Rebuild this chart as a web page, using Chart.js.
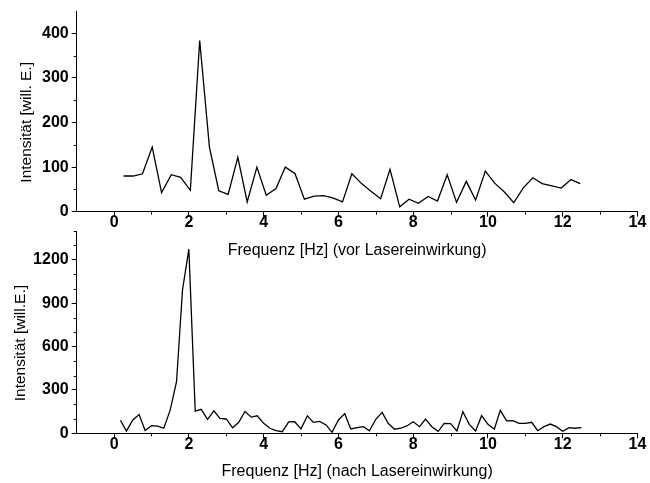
<!DOCTYPE html>
<html>
<head>
<meta charset="utf-8">
<script src="https://cdn.jsdelivr.net/npm/chart.js@4"></script>
<style>
  html, body { margin: 0; padding: 0; background: #fff; }
  #wrap { position: relative; width: 650px; height: 483px; }
  .box { position: absolute; left: 0; width: 650px; }
</style>
</head>
<body>
<div id="wrap">
  <div class="box" style="top:0;height:265px"><canvas id="vor"></canvas></div>
  <div class="box" style="top:220px;height:263px"><canvas id="nach"></canvas></div>
</div>
<script>
const FONT = '"Liberation Sans", Arial, sans-serif'

// vor Lasereinwirkung
const freqVor = [0.25, 0.51, 0.76, 1.02, 1.27, 1.53, 1.78, 2.04, 2.29, 2.55, 2.80, 3.05, 3.31, 3.56, 3.82, 4.07, 4.33,
  4.58, 4.84, 5.09, 5.35, 5.60, 5.85, 6.11, 6.36, 6.62, 6.87, 7.13, 7.38, 7.64, 7.89, 8.14, 8.40, 8.65, 8.91, 9.16,
  9.42, 9.67, 9.93, 10.18, 10.44, 10.69, 10.94, 11.20, 11.45, 11.71, 11.96, 12.22, 12.47]
const intVor = [80, 80, 85, 145, 43, 83, 77, 48, 384, 145, 47, 39, 122, 22, 100, 37, 52,
  100, 85, 28, 35, 36, 31, 22, 85, 63, 46, 29, 95, 11, 28, 19, 34, 24, 83, 21,
  68, 26, 91, 64, 44, 20, 53, 76, 63, 58, 53, 72, 63]

// nach Lasereinwirkung
const freqNach = [0.17, 0.33, 0.50, 0.67, 0.83, 1.00, 1.17, 1.33, 1.50, 1.67, 1.83, 2.00, 2.17, 2.33, 2.50, 2.67,
  2.83, 3.00, 3.17, 3.33, 3.50, 3.67, 3.83, 4.00, 4.17, 4.33, 4.50, 4.67, 4.83, 5.00, 5.17, 5.33, 5.50, 5.67,
  5.83, 6.00, 6.17, 6.33, 6.50, 6.67, 6.83, 7.00, 7.17, 7.33, 7.50, 7.67, 7.83, 8.00, 8.17, 8.33, 8.50, 8.67,
  8.83, 9.00, 9.17, 9.33, 9.50, 9.67, 9.83, 10.00, 10.17, 10.33, 10.50, 10.67, 10.83, 11.00, 11.17, 11.33,
  11.50, 11.67, 11.83, 12.00, 12.17, 12.33, 12.50]
const intNach = [90, 15, 92, 130, 20, 53, 50, 35, 160, 357, 992, 1274, 154, 166, 97, 155,
  103, 99, 38, 75, 151, 112, 121, 69, 35, 18, 11, 79, 80, 31, 121, 76, 82, 58,
  7, 92, 136, 30, 39, 46, 17, 97, 145, 69, 28, 35, 51, 80, 46, 99, 46, 14,
  69, 67, 16, 150, 62, 16, 122, 62, 28, 159, 86, 87, 69, 69, 76, 18,
  46, 64, 46, 14, 39, 35, 39]

const xMajor = [0, 2, 4, 6, 8, 10, 12, 14]
const xMinor = [1, 3, 5, 7, 9, 11, 13]
const yMajorVor = [0, 100, 200, 300, 400]
const yMinorVor = [50, 150, 250, 350]
const yMajorNach = [0, 300, 600, 900, 1200]
const yMinorNach = [100, 200, 400, 500, 700, 800, 1000, 1100, 1300, 1400]

// minor ticks + axis titles
const extras = {
  id: 'extras',
  afterDraw(chart, args, o) {
    const { ctx, chartArea: a, scales: { x, y } } = chart
    ctx.save()
    ctx.strokeStyle = '#000'
    ctx.lineWidth = 1
    ctx.beginPath()
    o.xMinor.forEach(v => {
      const px = Math.round(x.getPixelForValue(v)) + 0.5
      ctx.moveTo(px, a.bottom)
      ctx.lineTo(px, a.bottom + 3)
    })
    o.yMinor.forEach(v => {
      const py = Math.round(y.getPixelForValue(v)) + 0.5
      ctx.moveTo(a.left, py)
      ctx.lineTo(a.left - 3, py)
    })
    ctx.stroke()
    ctx.fillStyle = '#000'
    ctx.font = '16px ' + FONT
    ctx.textAlign = 'center'
    ctx.textBaseline = 'middle'
    ctx.fillText(o.xTitle, (a.left + a.right) / 2, a.bottom + 38.4)
    ctx.font = '15.5px ' + FONT
    ctx.translate(o.yTitleX, (a.top + a.bottom) / 2 + 11)
    ctx.rotate(-Math.PI / 2)
    ctx.fillText(o.yTitle, 0, 0)
    ctx.restore()
  },
}

function makeChart(id, freq, vals, cfg) {
  const tickFont = { family: FONT, size: 16, weight: 'bold', lineHeight: 1 }
  return new Chart(document.getElementById(id), {
    type: 'line',
    data: {
      datasets: [{
        data: freq.map((f, i) => ({ x: f, y: vals[i] })),
        borderColor: '#000',
        borderWidth: 1.3,
        pointRadius: 0,
        tension: 0,
        fill: false,
      }],
    },
    options: {
      responsive: true,
      maintainAspectRatio: false,
      animation: false,
      events: [],
      layout: { padding: { top: cfg.padTop, right: 12.5, left: 0, bottom: 0 } },
      plugins: {
        legend: { display: false },
        tooltip: { enabled: false },
        extras: { xMinor, yMinor: cfg.yMinor, xTitle: cfg.xTitle, yTitle: cfg.yTitle, yTitleX: cfg.yTitleX },
      },
      scales: {
        x: {
          type: 'linear',
          min: -1,
          max: 14,
          afterBuildTicks: s => { s.ticks = xMajor.map(v => ({ value: v })) },
          afterFit: s => { s.height = cfg.xAxisH },
          border: { display: true, color: '#000', width: 1 },
          grid: { drawOnChartArea: false, drawTicks: true, tickLength: 5, color: '#000' },
          ticks: { color: '#000', font: tickFont, padding: -2, maxRotation: 0, callback: v => String(v) },
        },
        y: {
          min: 0,
          max: cfg.yMax,
          afterBuildTicks: s => { s.ticks = cfg.yMajor.map(v => ({ value: v })) },
          afterFit: s => { s.width = 76.7 },
          border: { display: true, color: '#000', width: 1 },
          grid: { drawOnChartArea: false, drawTicks: true, tickLength: 5, color: '#000' },
          ticks: { color: '#000', font: tickFont, padding: 3, callback: v => String(v) },
        },
      },
    },
    plugins: [extras],
  })
}

makeChart('vor', freqVor, intVor, {
  yMax: 450, yMajor: yMajorVor, yMinor: yMinorVor, padTop: 9.3, xAxisH: 53.3,
  xTitle: 'Frequenz [Hz] (vor Lasereinwirkung)', yTitle: 'Intensität [will. E.]', yTitleX: 27,
})
makeChart('nach', freqNach, intNach, {
  yMax: 1400, yMajor: yMajorNach, yMinor: yMinorNach, padTop: 10, xAxisH: 49.7,
  xTitle: 'Frequenz [Hz] (nach Lasereinwirkung)', yTitle: 'Intensität [will.E.]', yTitleX: 21,
})
</script>
</body>
</html>
